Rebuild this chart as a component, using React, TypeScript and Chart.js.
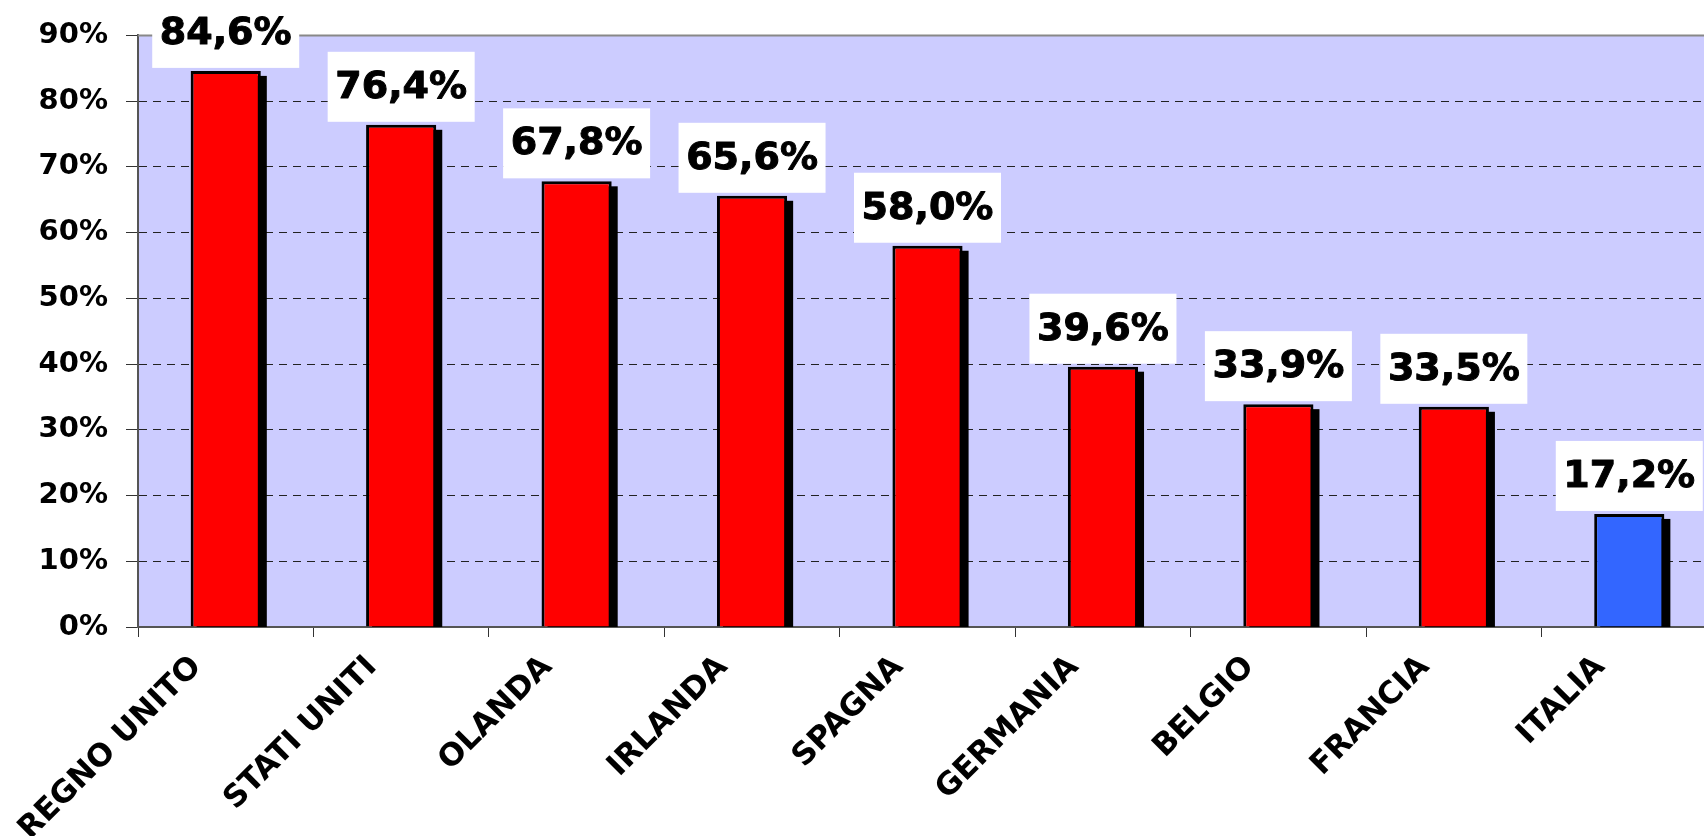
import React, { useEffect, useRef } from "react";
import { Chart, registerables } from "chart.js";

Chart.register(...registerables);

const categories = ["REGNO UNITO", "STATI UNITI", "OLANDA", "IRLANDA", "SPAGNA", "GERMANIA", "BELGIO", "FRANCIA", "ITALIA"];
const values = [84.6, 76.4, 67.8, 65.6, 58.0, 39.6, 33.9, 33.5, 17.2];
const valueLabels = ["84,6%", "76,4%", "67,8%", "65,6%", "58,0%", "39,6%", "33,9%", "33,5%", "17,2%"];
const barColors = ["#FF0000", "#FF0000", "#FF0000", "#FF0000", "#FF0000", "#FF0000", "#FF0000", "#FF0000", "#3366FF"];
const yMin = 0;
const yMax = 90;
const yStep = 10;

const FONT = "'DejaVu Sans', sans-serif";

const plotBgPlugin = {
  id: "plotBg",
  beforeDraw(chart: any) {
    const { ctx, chartArea } = chart;
    ctx.save();
    ctx.fillStyle = "#CCCCFF";
    ctx.fillRect(chartArea.left, chartArea.top, chartArea.right - chartArea.left, chartArea.bottom - chartArea.top);
    ctx.restore();
  },
  beforeDatasetsDraw(chart: any) {
    const { ctx, chartArea } = chart;
    ctx.save();
    ctx.strokeStyle = "#888888";
    ctx.lineWidth = 2;
    ctx.beginPath();
    ctx.moveTo(chartArea.left, chartArea.top);
    ctx.lineTo(chartArea.right, chartArea.top);
    ctx.stroke();
    ctx.restore();
    // bar shadows
    const meta = chart.getDatasetMeta(0);
    ctx.save();
    ctx.beginPath();
    ctx.rect(chartArea.left, chartArea.top, chartArea.right - chartArea.left, chartArea.bottom - chartArea.top);
    ctx.clip();
    ctx.fillStyle = "#000000";
    meta.data.forEach((bar: any) => {
      const p = bar.getProps(["x", "y", "base", "width"], true);
      const left = p.x - p.width / 2;
      ctx.fillRect(left + 6, p.y + 5, p.width, p.base - p.y);
    });
    ctx.restore();
  },
  afterDatasetsDraw(chart: any) {
    const { ctx } = chart;
    const meta = chart.getDatasetMeta(0);
    ctx.save();
    ctx.font = `bold 38px ${FONT}`;
    ctx.textAlign = "center";
    ctx.textBaseline = "middle";
    ctx.lineJoin = "round";
    meta.data.forEach((bar: any, i: number) => {
      const w = 147;
      const h = 70;
      const bottom = bar.y - 3;
      ctx.fillStyle = "#FFFFFF";
      ctx.fillRect(bar.x - w / 2, bottom - h, w, h);
      ctx.fillStyle = "#000000";
      ctx.strokeStyle = "#000000";
      ctx.lineWidth = 1;
      ctx.fillText(valueLabels[i], bar.x, bottom - h / 2 + 1);
      ctx.strokeText(valueLabels[i], bar.x, bottom - h / 2 + 1);
    });
    ctx.restore();
  },
};

export default function App() {
  const canvasRef = useRef<HTMLCanvasElement | null>(null);

  useEffect(() => {
    if (!canvasRef.current) return;
    const chart = new Chart(canvasRef.current, {
      type: "bar",
      data: {
        labels: categories,
        datasets: [
          {
            data: values,
            backgroundColor: barColors,
            borderColor: "#000000",
            borderWidth: 3,
            barPercentage: 0.4,
            categoryPercentage: 1,
            clip: 0,
          } as any,
        ],
      },
      options: {
        animation: false,
        responsive: true,
        maintainAspectRatio: false,
        layout: { padding: { top: 33, right: 3, left: 0, bottom: 0 } },
        plugins: {
          legend: { display: false },
          tooltip: { enabled: false },
        },
        scales: {
          x: {
            offset: true,
            grid: {
              offset: true,
              drawOnChartArea: false,
              drawTicks: true,
              tickLength: 10,
              tickColor: "#333333",
            },
            border: { color: "#555555", width: 2 },
            ticks: {
              color: "#000000",
              font: { family: FONT, weight: "bold", size: 31 },
              minRotation: 45,
              maxRotation: 45,
              autoSkip: false,
              labelOffset: -29,
              padding: 12,
            },
            afterFit(scale: any) {
              scale.height = 209;
            },
          },
          y: {
            min: yMin,
            max: yMax,
            grid: {
              color: (c: any) => (c.tick && (c.tick.value === yMax || c.tick.value === yMin) ? "rgba(0,0,0,0)" : "#222222"),
              lineWidth: 1,
              tickLength: 12,
              tickColor: "#333333",
            },
            border: { color: "#555555", width: 2, dash: [8, 6] },
            ticks: {
              stepSize: yStep,
              color: "#000000",
              font: { family: FONT, weight: "bold", size: 29 },
              padding: 18,
              callback: (v: any) => `${v}%`,
            },
            afterFit(scale: any) {
              scale.width = 138;
            },
          },
        },
      },
      plugins: [plotBgPlugin],
    });
    return () => chart.destroy();
  }, []);

  return (
    <div style={{ position: "absolute", left: 0, top: 0, width: 1704, height: 836, overflow: "hidden", background: "#FFFFFF" }}>
      <div style={{ position: "relative", width: 1720, height: 836 }}>
        <canvas ref={canvasRef} />
      </div>
    </div>
  );
}
